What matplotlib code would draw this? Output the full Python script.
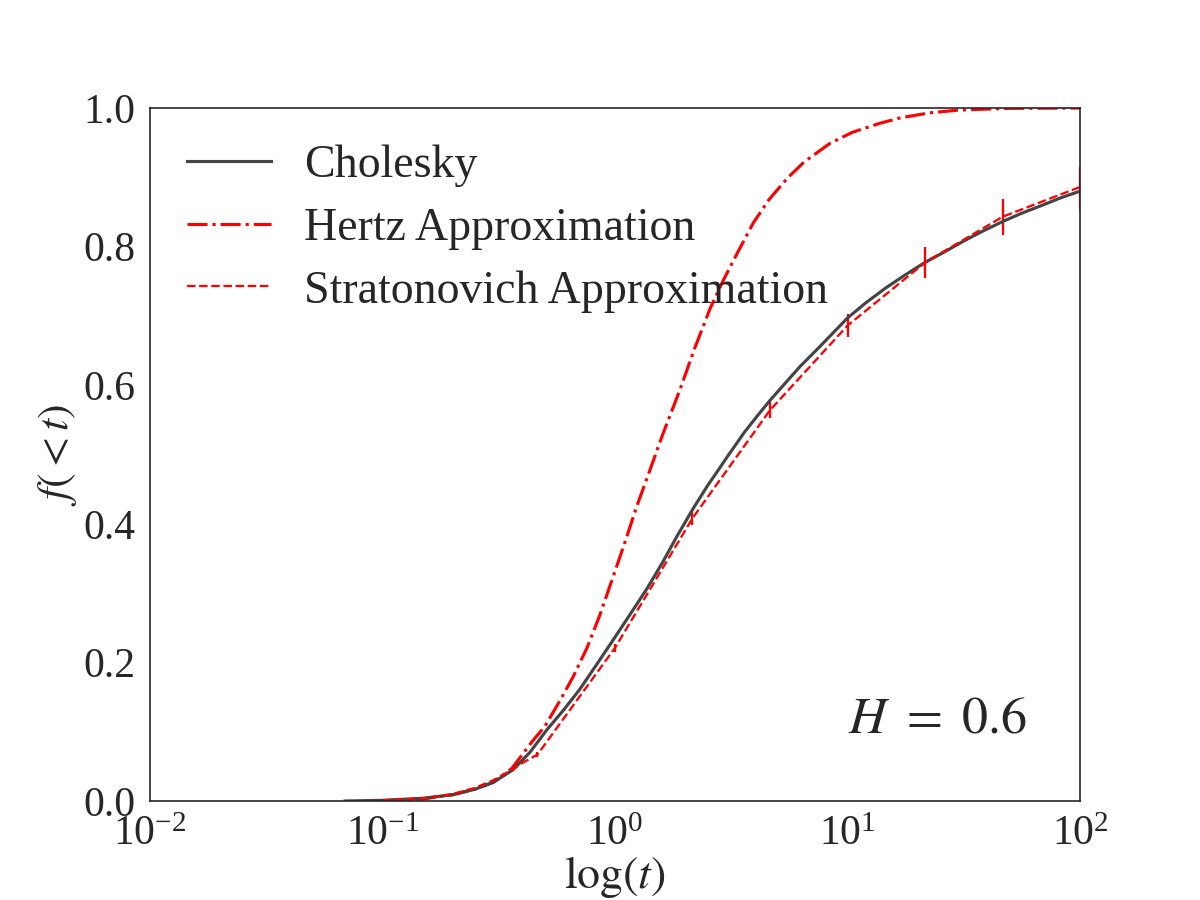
import numpy as np
import matplotlib
matplotlib.use('Agg')
import matplotlib.pyplot as plt
from matplotlib.lines import Line2D

plt.rcParams['font.family'] = ['Liberation Serif', 'DejaVu Serif']
plt.rcParams['mathtext.fontset'] = 'stix'
plt.rcParams['text.color'] = '#262626'
plt.rcParams['axes.labelcolor'] = '#262626'
plt.rcParams['xtick.color'] = '#262626'
plt.rcParams['ytick.color'] = '#262626'

# Cholesky (exact) curve
t_chol = [0.069, 0.1, 0.15, 0.2, 0.25, 0.3, 0.364, 0.43, 0.51, 0.6, 0.705, 0.83,
          0.98, 1.16, 1.37, 1.6, 1.84, 2.15, 2.5, 2.8, 3.03, 3.6, 4.1, 4.64,
          5.4, 6.25, 7.62, 8.7, 10, 12, 14.7, 17.5, 21.5, 26, 31.6, 38, 46.4,
          56, 68, 82, 100]
f_chol = [0.0, 0.001, 0.004, 0.009, 0.017, 0.027, 0.045, 0.070, 0.103, 0.131,
          0.161, 0.196, 0.232, 0.269, 0.306, 0.344, 0.381, 0.420, 0.455, 0.479,
          0.496, 0.532, 0.556, 0.578, 0.603, 0.627, 0.656, 0.676, 0.697, 0.719,
          0.741, 0.758, 0.777, 0.792, 0.808, 0.822, 0.836, 0.848, 0.859, 0.870,
          0.880]
err_chol = [0.0] * 40 + [0.029]

# Hertz approximation
t_hertz = [0.1, 0.15, 0.2, 0.25, 0.3, 0.36, 0.443, 0.5, 0.58, 0.66, 0.758,
           0.86, 0.98, 1.1, 1.24, 1.415, 1.6, 1.905, 2.2, 2.56, 2.92, 3.35,
           3.93, 4.6, 5.49, 6.5, 8.41, 10.5, 13.8, 17, 22.6, 30, 50, 100]
f_hertz = [0.0, 0.003, 0.009, 0.017, 0.027, 0.047, 0.087, 0.108, 0.145, 0.179,
           0.221, 0.268, 0.323, 0.372, 0.425, 0.478, 0.528, 0.594, 0.653,
           0.710, 0.751, 0.790, 0.834, 0.868, 0.898, 0.922, 0.949, 0.965,
           0.978, 0.986, 0.993, 0.997, 0.9995, 1.0]

# Stratonovich approximation
t_strat = [0.1, 0.15, 0.2, 0.25, 0.3, 0.36, 0.4, 0.464, 1.0, 2.154, 4.642,
           10.0, 21.54, 46.42, 100.0]
f_strat = [0.001, 0.004, 0.010, 0.019, 0.030, 0.045, 0.055, 0.067, 0.221,
           0.408, 0.564, 0.686, 0.777, 0.843, 0.886]
err_strat = [0, 0, 0, 0, 0, 0, 0, 0.003, 0.006, 0.010, 0.012, 0.017, 0.022,
             0.026, 0.029]

fig, ax = plt.subplots(figsize=(8, 6), dpi=150)

ax.errorbar(t_chol, f_chol, yerr=err_chol, color='#444444', lw=1.5,
            elinewidth=1.2, capsize=0)
ax.plot(t_hertz, f_hertz, color='red', ls='-.', lw=1.5)
ax.errorbar(t_strat, f_strat, yerr=err_strat, color='red', ls='--', lw=1.1,
            elinewidth=1.1, capsize=0)

ax.set_xscale('log')
ax.set_xlim(1e-2, 1e2)
ax.set_ylim(0, 1)
ax.set_yticks([0, 0.2, 0.4, 0.6, 0.8, 1.0])
ax.set_yticklabels(['0.0', '0.2', '0.4', '0.6', '0.8', '1.0'])
ax.tick_params(length=0, labelsize=20, pad=7)
ax.minorticks_off()
for s in ax.spines.values():
    s.set_color('#262626')
    s.set_linewidth(0.8)

ax.set_xlabel(r'$\log(t)$', fontsize=22, labelpad=0)
ax.set_ylabel(r'$f(<t)$', fontsize=21, labelpad=2)
ax.text(0.75, 0.118, r'$H\ =\ 0.6$', transform=ax.transAxes, fontsize=25,
        va='center')

handles = [Line2D([], [], color='#444444', lw=1.5),
           Line2D([], [], color='red', ls='-.', lw=1.5),
           Line2D([], [], color='red', ls='--', lw=1.1)]
labels = ['Cholesky', 'Hertz Approximation', 'Stratonovich Approximation']
ax.legend(handles, labels, loc='upper left', frameon=False, fontsize=22,
          handlelength=1.85, handletextpad=0.72, borderaxespad=0.4,
          labelspacing=0.44)

plt.savefig('out.png', dpi=150)
